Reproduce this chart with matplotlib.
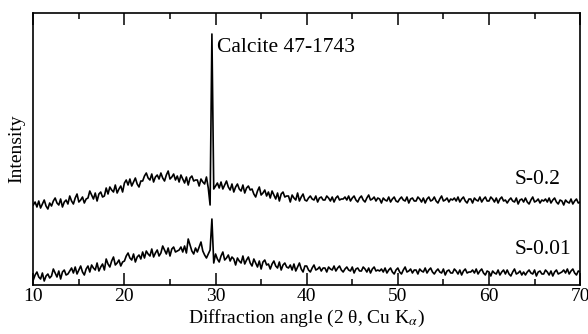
import numpy as np
import matplotlib
matplotlib.use("Agg")
import matplotlib.pyplot as plt
from matplotlib.ticker import MultipleLocator

plt.rcParams['font.family'] = ['Liberation Serif', 'DejaVu Serif']
plt.rcParams['mathtext.fontset'] = 'stix'

# 2-theta scan: 10 to 70 degrees, 0.2 degree step
angle_start, angle_end = 10.0, 70.0

# Intensities (a.u., vertically stacked as displayed)
s_02 = [
    80, 83, 78, 84, 77, 81, 85, 79, 76, 82,
    79, 84, 87, 82, 80, 86, 78, 83, 85, 81,
    89, 84, 81, 87, 91, 83, 85, 88, 82, 86,
    87, 94, 90, 86, 92, 84, 91, 93, 88, 89,
    97, 91, 98, 95, 93, 100, 92, 96, 99, 93,
    102, 105, 100, 106, 99, 103, 107, 101, 98, 104,
    104, 109, 112, 107, 105, 111, 103, 108, 110, 106,
    112, 107, 104, 110, 114, 106, 108, 111, 105, 109,
    103, 110, 106, 102, 108, 100, 107, 109, 104, 105,
    105, 99, 106, 103, 101, 108, 97, 80, 251, 96,
    99, 102, 97, 103, 96, 100, 104, 98, 95, 101,
    93, 98, 101, 96, 94, 100, 92, 97, 99, 95,
    96, 91, 88, 94, 98, 90, 92, 95, 89, 93,
    87, 94, 90, 86, 92, 84, 91, 93, 88, 89,
    89, 83, 90, 87, 85, 92, 84, 88, 91, 85,
    84, 87, 89, 86, 85, 89, 83, 87, 88, 85,
    85, 89, 87, 84, 88, 83, 87, 89, 85, 86,
    86, 88, 85, 89, 84, 87, 89, 85, 83, 87,
    89, 85, 83, 87, 90, 85, 86, 88, 84, 87,
    86, 82, 87, 85, 84, 88, 83, 86, 88, 84,
    83, 86, 88, 85, 84, 88, 82, 86, 87, 84,
    84, 88, 86, 83, 87, 82, 86, 88, 84, 85,
    88, 84, 82, 86, 89, 84, 85, 87, 83, 86,
    85, 87, 84, 88, 83, 86, 88, 84, 82, 86,
    86, 82, 87, 85, 84, 88, 83, 86, 88, 84,
    84, 88, 86, 83, 87, 82, 86, 88, 84, 85,
    82, 85, 87, 84, 83, 87, 81, 85, 86, 83,
    87, 83, 81, 85, 88, 83, 84, 86, 82, 85,
    84, 86, 83, 87, 82, 85, 87, 83, 81, 85,
    84, 80, 85, 83, 82, 86, 81, 84, 86, 82,
    83,
]

s_001 = [
    5, 10, 13, 8, 6, 12, 4, 9, 11, 7,
    9, 16, 12, 8, 14, 6, 13, 15, 10, 11,
    14, 17, 12, 18, 11, 15, 19, 13, 10, 16,
    19, 13, 20, 17, 15, 22, 14, 18, 21, 15,
    26, 21, 18, 24, 28, 20, 22, 25, 19, 23,
    24, 29, 32, 27, 25, 31, 23, 28, 30, 26,
    33, 27, 34, 31, 29, 36, 28, 32, 35, 29,
    32, 39, 35, 31, 37, 29, 36, 38, 33, 34,
    35, 38, 33, 39, 32, 46, 40, 34, 31, 37,
    33, 38, 43, 34, 30, 27, 31, 35, 66, 22,
    31, 26, 23, 29, 33, 25, 27, 30, 24, 28,
    26, 20, 27, 24, 22, 29, 21, 25, 28, 22,
    19, 26, 22, 18, 24, 16, 23, 25, 20, 21,
    16, 21, 24, 19, 17, 23, 15, 20, 22, 18,
    17, 20, 15, 21, 14, 18, 22, 16, 13, 19,
    19, 15, 13, 17, 20, 15, 16, 18, 14, 17,
    17, 13, 18, 16, 15, 19, 14, 17, 19, 15,
    13, 16, 18, 15, 14, 18, 12, 16, 17, 14,
    14, 18, 16, 13, 17, 12, 16, 18, 14, 15,
    14, 16, 13, 17, 12, 15, 17, 13, 11, 15,
    17, 13, 11, 15, 18, 13, 14, 16, 12, 15,
    15, 11, 16, 14, 13, 17, 12, 15, 17, 13,
    11, 14, 16, 13, 12, 16, 10, 14, 15, 12,
    12, 16, 14, 11, 15, 10, 14, 16, 12, 13,
    13, 15, 12, 16, 11, 14, 16, 12, 10, 14,
    13, 9, 14, 12, 11, 15, 10, 13, 15, 11,
    15, 11, 9, 13, 16, 11, 12, 14, 10, 13,
    10, 13, 15, 12, 11, 15, 9, 13, 14, 11,
    11, 15, 13, 10, 14, 9, 13, 15, 11, 12,
    13, 15, 12, 16, 11, 14, 16, 12, 10, 14,
    13,
]

series_labels = ["S-0.2", "S-0.01"]
label_angle = 62.8
label_y = [101, 31]
peak_label = "Calcite 47-1743"
peak_label_pos = (30.2, 233)
xticks = [10, 20, 30, 40, 50, 60, 70]

n = len(s_02)
angles = np.linspace(angle_start, angle_end, n)

fig = plt.figure(figsize=(5.88, 3.34), dpi=100)
ax = fig.add_axes([0.0566, 0.1467, 0.93, 0.8143])

ax.plot(angles, s_02, color='black', lw=1.2)
ax.plot(angles, s_001, color='black', lw=1.2)

ax.set_xlim(10, 70)
ax.set_ylim(0, 272)
ax.set_xticks(xticks)
ax.xaxis.set_minor_locator(MultipleLocator(5))
ax.set_yticks([])
ax.tick_params(axis='x', which='both', direction='in', top=True, bottom=True,
               labelsize=14, pad=2, width=1.1, colors='black')
ax.tick_params(axis='x', which='major', length=8.5)
ax.tick_params(axis='x', which='minor', length=4.6)
for sp in ax.spines.values():
    sp.set_linewidth(1.2)

ax.set_xlabel("Diffraction angle (2 θ, Cu K$_{\\alpha}$)", fontsize=14, labelpad=2)
ax.set_ylabel("Intensity", fontsize=14, labelpad=6)

ax.text(peak_label_pos[0], peak_label_pos[1], peak_label, fontsize=15.5,
        ha='left', va='baseline')
for lab, yv in zip(series_labels, label_y):
    ax.text(label_angle, yv, lab, fontsize=15.5, ha='left', va='baseline')

fig.savefig("out.png", dpi=100)
